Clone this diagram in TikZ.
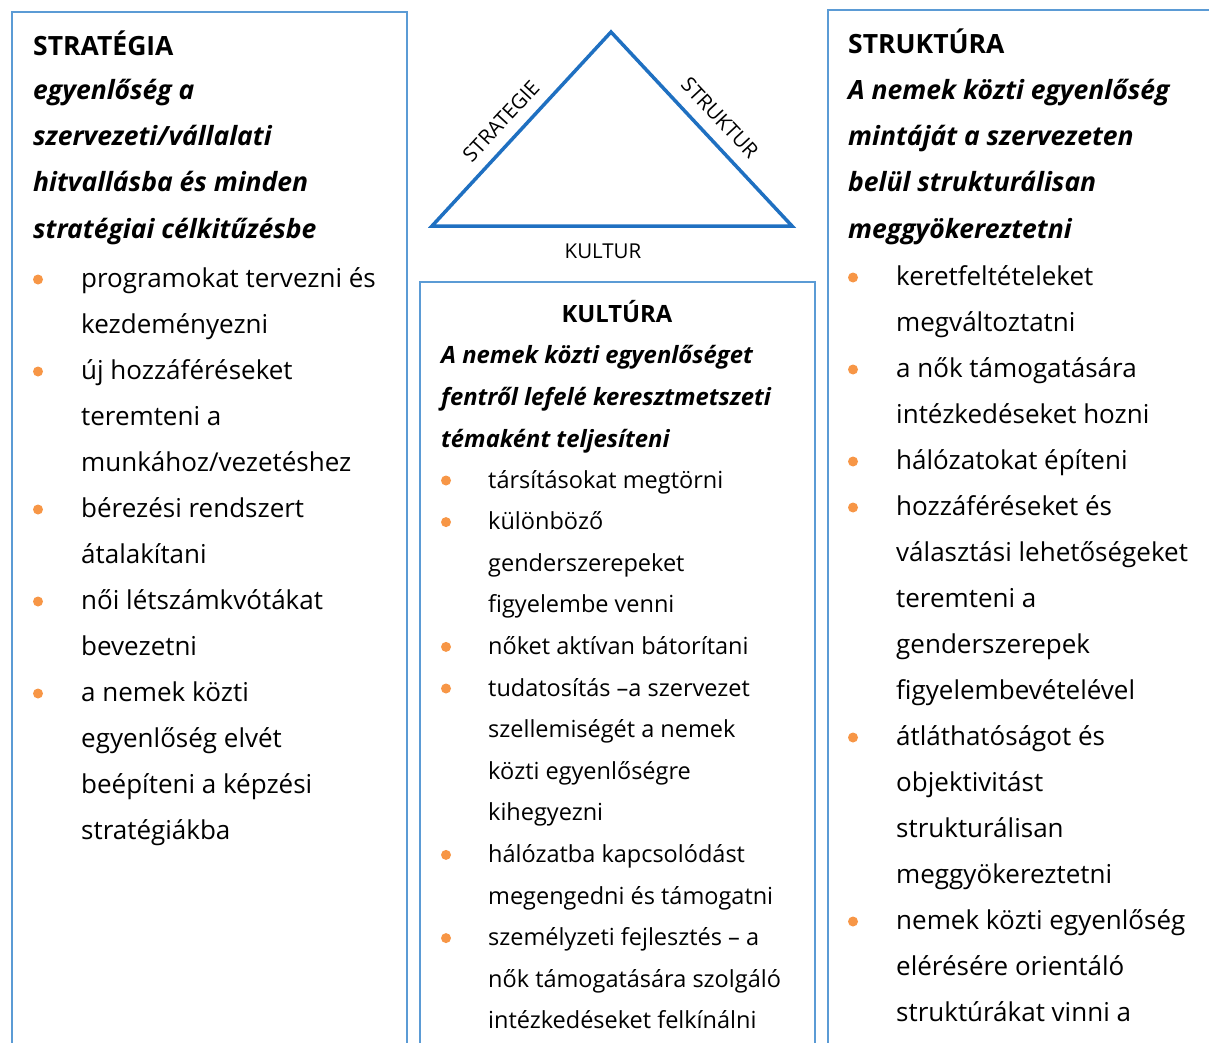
\documentclass[tikz,border=0pt]{standalone}
\usepackage{fontspec}
\setmainfont{Open Sans}
\usetikzlibrary{positioning}
\definecolor{keret}{HTML}{5B9BD5}
\definecolor{haromszog}{HTML}{1F70C1}
\definecolor{pontszin}{HTML}{F79646}
\tikzset{
  doboz/.style={draw=keret,line width=1.3pt},
  sor/.style={anchor=base west,inner sep=0pt,font=\fontsize{26}{30}\selectfont},
  ksor/.style={sor,font=\fontsize{23.5}{27}\selectfont},
  cim/.style={anchor=base west,inner sep=0pt,font=\fontsize{26.5}{30}\selectfont\bfseries},
  kiemelt/.style={cim,font=\fontsize{26.5}{30}\selectfont\bfseries\itshape},
  kkiemelt/.style={cim,font=\fontsize{23.8}{27}\selectfont\bfseries\itshape},
  pont/.style={circle,fill=pontszin,inner sep=0pt,minimum size=10pt},
  csucs/.style={inner sep=0pt,font=\fontsize{20.5}{22}\selectfont},
}

\begin{document}
\begin{tikzpicture}[x=1pt,y=-1pt]
  \useasboundingbox (0,0) rectangle (1209,1043);
  \clip (0,0) rectangle (1209,1043);
  % keretek
  \draw[doboz] (12,12) rectangle (407,1070);
  \draw[doboz] (420,282) rectangle (815,1070);
  \draw[doboz] (828,10) rectangle (1230,1070);

  % haromszog
  \coordinate (csucs) at (611,32);
  \coordinate (bal) at (432,226);
  \coordinate (jobb) at (792,226);
  \draw[haromszog,line width=3.5pt] (bal) -- (csucs) -- (jobb) -- cycle;
  \node[csucs,rotate=47.3] (strat) at (501,121) {STRATEGIE};
  \node[csucs,rotate=-47] (strukt) at (720,118) {STRUKTUR};
  \node[csucs] (kult) at (603,251) {KULTUR};

  % strategia
  \node[cim] (sCim) at (33,56) {STRATÉGIA};
  \foreach \t [count=\i from 0] in {egyenlőség a, szervezeti/vállalati,
      hitvallásba és minden, stratégiai célkitűzésbe}
    \node[kiemelt] (sK\i) at (33,100+46*\i) {\t};
  \foreach \t [count=\i from 0] in {programokat tervezni és, kezdeményezni,
      új hozzáféréseket, teremteni a, munkához/vezetéshez, bérezési rendszert,
      átalakítani, női létszámkvótákat, bevezetni, a nemek közti,
      egyenlőség elvét, beépíteni a képzési, stratégiákba}
    \node[sor] (sS\i) at (81,287+46*\i) {\t};
  \foreach \i in {0,2,5,7,9}
    \node[pont] (sP\i) at (38,279.5+46*\i) {};

  % kultura
  \node[cim,anchor=base,font=\fontsize{23.8}{27}\selectfont\bfseries] (kCim) at (617,322) {KULTÚRA};
  \foreach \t [count=\i from 0] in {A nemek közti egyenlőséget,
      fentről lefelé keresztmetszeti, témaként teljesíteni}
    \node[kkiemelt] (kK\i) at (441,363+42*\i) {\t};
  \foreach \t [count=\i from 0] in {társításokat megtörni, különböző,
      genderszerepeket, figyelembe venni, nőket aktívan bátorítani,
      tudatosítás –a szervezet, szellemiségét a nemek, közti egyenlőségre,
      kihegyezni, hálózatba kapcsolódást, megengedni és támogatni,
      személyzeti fejlesztés – a, nők támogatására szolgáló,
      intézkedéseket felkínálni}
    \node[ksor] (kS\i) at (488,488+41.6*\i) {\t};
  \foreach \i in {0,1,4,5,9,11}
    \node[pont] (kP\i) at (446,480.5+41.6*\i) {};

  % struktura
  \node[cim] (tCim) at (848,54) {STRUKTÚRA};
  \foreach \t [count=\i from 0] in {A nemek közti egyenlőség,
      mintáját a szervezeten, belül strukturálisan, meggyökereztetni}
    \node[kiemelt] (tK\i) at (848,100+46*\i) {\t};
  \foreach \t [count=\i from 0] in {keretfeltételeket, megváltoztatni,
      a nők támogatására, intézkedéseket hozni, hálózatokat építeni,
      hozzáféréseket és, választási lehetőségeket, teremteni a,
      genderszerepek, figyelembevételével, átláthatóságot és,
      objektivitást, strukturálisan, meggyökereztetni,
      nemek közti egyenlőség, elérésére orientáló, struktúrákat vinni a}
    \node[sor] (tS\i) at (896,285+46*\i) {\t};
  \foreach \i in {0,2,4,5,10,14}
    \node[pont] (tP\i) at (853,277.5+46*\i) {};
\end{tikzpicture}
\end{document}
